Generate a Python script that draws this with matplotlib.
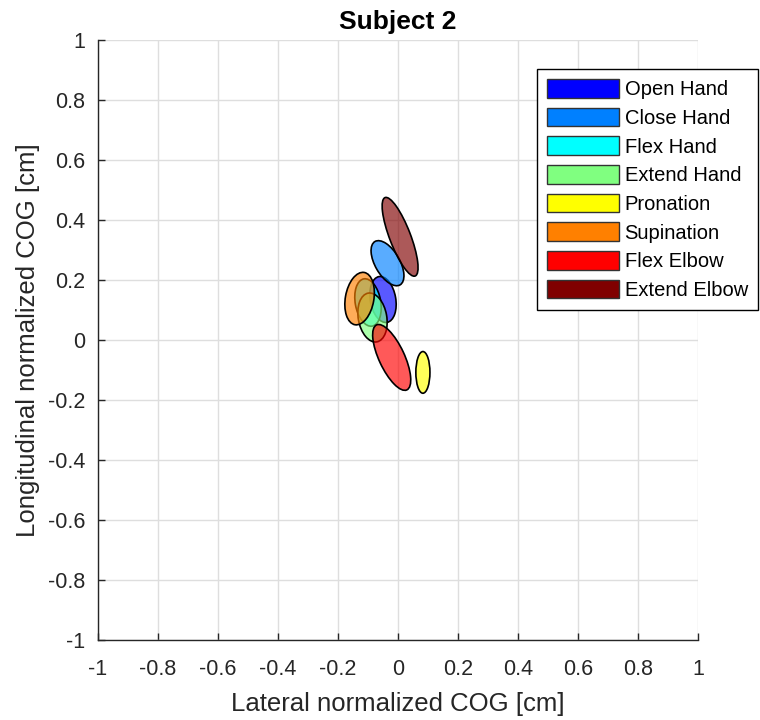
import matplotlib
matplotlib.use("Agg")
import matplotlib.pyplot as plt
from matplotlib.patches import Ellipse, Patch

plt.rcParams['font.family'] = ['Liberation Sans', 'DejaVu Sans']

# Movement classes
categories = ["Open Hand", "Close Hand", "Flex Hand", "Extend Hand",
              "Pronation", "Supination", "Flex Elbow", "Extend Elbow"]
# Ellipse centres (lateral, longitudinal) in normalized COG units
center_x = [-0.050, -0.035, -0.100, -0.085, 0.083, -0.128, -0.021, 0.007]
center_y = [0.135, 0.256, 0.125, 0.075, -0.108, 0.138, -0.058, 0.344]
# Ellipse axis lengths and orientation (deg)
major_len = [0.155, 0.167, 0.160, 0.165, 0.139, 0.177, 0.239, 0.280]
minor_len = [0.085, 0.082, 0.085, 0.095, 0.047, 0.095, 0.085, 0.070]
angle_deg = [100, 120, 100, 100, 90, 80, 115, 111]

colors = [(0, 0, 1), (0, 0.5, 1), (0, 1, 1), (0.5, 1, 0.5),
          (1, 1, 0), (1, 0.5, 0), (1, 0, 0), (0.5, 0, 0)]

ticks = [-1, -0.8, -0.6, -0.4, -0.2, 0, 0.2, 0.4, 0.6, 0.8, 1]
tick_labels = ["-1", "-0.8", "-0.6", "-0.4", "-0.2", "0", "0.2", "0.4", "0.6", "0.8", "1"]

fig = plt.figure(figsize=(7.6, 7.2), dpi=100)
ax = fig.add_axes([98/760, 80/720, 600/760, 600/720])

for i in range(len(categories)):
    e = Ellipse((center_x[i], center_y[i]), major_len[i], minor_len[i],
                angle=angle_deg[i], facecolor=colors[i] + (0.65,),
                edgecolor='black', linewidth=1.2, zorder=3 + i)
    ax.add_patch(e)

ax.set_xlim(-1, 1)
ax.set_ylim(-1, 1)
ax.set_xticks(ticks)
ax.set_xticklabels(tick_labels)
ax.set_yticks(ticks)
ax.set_yticklabels(tick_labels)

ax.grid(True, color='#dedede', linewidth=1.0, zorder=0)
ax.set_axisbelow(True)
for s in ['top', 'right']:
    ax.spines[s].set_visible(False)
for s in ['left', 'bottom']:
    ax.spines[s].set_color('#262626')
    ax.spines[s].set_linewidth(1.0)
ax.tick_params(direction='in', length=5, width=1.0, colors='#262626',
               labelsize=15.5, labelcolor='#262626')
ax.tick_params(axis='x', pad=14)
ax.tick_params(axis='y', pad=9)

ax.set_xlabel("Lateral normalized COG [cm]", fontsize=18.5, color='#262626', labelpad=8)
ax.set_ylabel("Longitudinal normalized COG [cm]", fontsize=18.5, color='#262626', labelpad=6)
ax.set_title("Subject 2", fontsize=19, fontweight='bold', color='black', pad=8)

handles = [Patch(facecolor=colors[i], edgecolor='#333333', linewidth=1.0)
           for i in range(len(categories))]
leg = fig.legend(handles, categories, loc='upper left',
                 bbox_to_anchor=(537/760, 1 - 69/720), fontsize=14.5,
                 handlelength=3.55, handleheight=1.05, handletextpad=0.3,
                 labelspacing=0.42, borderpad=0.5, borderaxespad=0,
                 fancybox=False, framealpha=1, edgecolor='black')
leg.get_frame().set_linewidth(1.0)

fig.savefig("out.png", dpi=100)
